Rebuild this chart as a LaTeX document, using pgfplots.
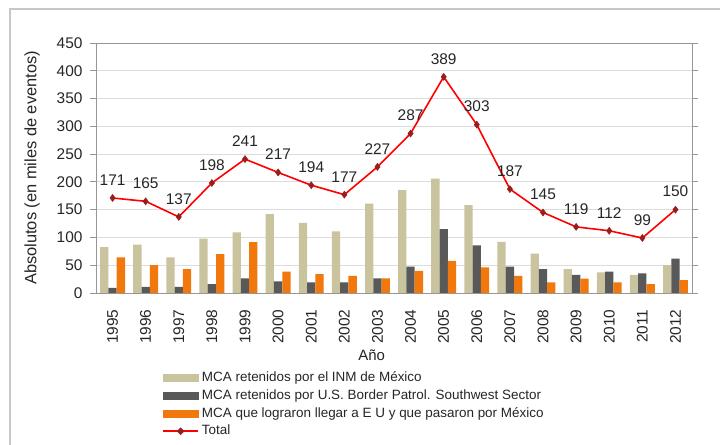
\documentclass[border=0pt]{standalone}
\usepackage{pgfplots}
\pgfplotsset{compat=1.18}
\usepackage{fontspec}
\setmainfont{Liberation Sans}
\definecolor{beige}{RGB}{201,196,158}
\definecolor{dgray}{RGB}{89,89,89}
\definecolor{orng}{RGB}{240,120,12}
\definecolor{gridc}{RGB}{220,220,220}
\definecolor{axc}{RGB}{150,150,150}
\definecolor{mk}{RGB}{150,30,30}
\pgfplotsset{
 begleg/.style={legend image code/.code={\fill[beige] (0bp,-3.5bp) rectangle (35bp,3.5bp);}},
 gryleg/.style={legend image code/.code={\fill[dgray] (0bp,-3.5bp) rectangle (35bp,3.5bp);}},
 orgleg/.style={legend image code/.code={\fill[orng] (0bp,-3.5bp) rectangle (35bp,3.5bp);}},
 totleg/.style={legend image code/.code={\draw[red, line width=1.6bp] (0bp,0bp) -- (35bp,0bp);
   \fill[mk] (17.5bp,3.5bp) -- (21bp,0bp) -- (17.5bp,-3.5bp) -- (14bp,0bp) -- cycle;}},
}
\begin{document}
\begin{tikzpicture}[x=1bp,y=1bp]
\useasboundingbox (0,0) rectangle (720,445);
\fill[white] (0,0) rectangle (720,445);
\draw[black!22, line width=2.2bp] (10,-5) -- (10,435.7) -- (725,435.7);
\begin{axis}[
 at={(96bp,152bp)}, anchor=south west,
 scale only axis, width=596bp, height=250bp,
 xmin=-0.5, xmax=17.5, ymin=0, ymax=450,
 ytick={0,50,...,450},
 xtick={0,...,17},
 xticklabels={1995,1996,1997,1998,1999,2000,2001,2002,2003,2004,2005,2006,2007,2008,2009,2010,2011,2012},
 x tick label style={rotate=90, anchor=east, xshift=-7bp},
 y tick label style={xshift=-4bp},
 tick label style={font=\fontsize{15.5}{17}\selectfont, text=black!85},
 /pgf/number format/assume math mode=true,
 ymajorgrids, major grid style={gridc, line width=0.9bp},
 axis line style={axc, line width=0.9bp},
 ytick style={axc, line width=0.9bp},
 xtick style={draw=none},
 tick align=outside, major tick length=6bp,
 every axis y label/.style={at={(axis description cs:-0.107,0.5)}, rotate=90, anchor=center, font=\fontsize{16.5}{18}\selectfont, text=black!85},
 ylabel={Absolutos (en miles de eventos)},
 every axis x label/.style={at={(axis description cs:0.4626,-0.248)}, anchor=center, font=\fontsize{15}{17}\selectfont, text=black!85},
 xlabel={Año},
 legend style={at={(axis description cs:0.111,-0.314)}, anchor=north west, draw=none, fill=none,
   font=\fontsize{13.5}{16}\selectfont, text=black!85, row sep=4.7bp, column sep=3bp, inner sep=0pt,
   nodes={text height=10bp, text depth=3bp, inner sep=0pt},
   cells={anchor=west}},
 legend cell align=left,
]
\addlegendimage{begleg}
\addlegendimage{gryleg}
\addlegendimage{orgleg}
\addlegendimage{totleg}
\legend{MCA retenidos por el INM de México, MCA retenidos por U.S. Border Patrol. Southwest Sector, MCA que lograron llegar a E U y que pasaron por México, Total}

\addplot[ybar, bar width=8.3bp, bar shift=-8.3bp, fill=beige, draw=none, forget plot] coordinates {
(0,82.5)(1,87)(2,64)(3,98)(4,109)(5,142)(6,126)(7,111)(8,161)(9,185)(10,206)(11,158)(12,92)(13,71)(14,43)(15,37)(16,32.5)(17,50)};
\addplot[ybar, bar width=8.3bp, bar shift=0bp, fill=dgray, draw=none, forget plot] coordinates {
(0,9)(1,11)(2,11)(3,16)(4,26.5)(5,21)(6,19)(7,19)(8,26.5)(9,47.6)(10,115)(11,85.5)(12,47.6)(13,43)(14,32.5)(15,38.5)(16,35.5)(17,62)};
\addplot[ybar, bar width=8.3bp, bar shift=8.3bp, fill=orng, draw=none, forget plot] coordinates {
(0,64)(1,50)(2,43)(3,70)(4,91.5)(5,38.5)(6,34)(7,31)(8,26.5)(9,40)(10,58)(11,46)(12,31)(13,19)(14,26)(15,19)(16,16)(17,23)};
\addplot[red, line width=1.6bp, mark=diamond*, mark size=3.5bp, mark options={fill=mk, draw=mk, line width=0.5bp}, forget plot,
  nodes near coords, nodes near coords style={font=\fontsize{15.5}{17}\selectfont, text=black!85, anchor=south, yshift=9bp}] coordinates {
(0,171)(1,165)(2,137)(3,198)(4,241)(5,217)(6,194)(7,177)(8,227)(9,287)(10,389)(11,303)(12,187)(13,145)(14,119)(15,112)(16,99)(17,150)};
\end{axis}
\end{tikzpicture}
\end{document}
